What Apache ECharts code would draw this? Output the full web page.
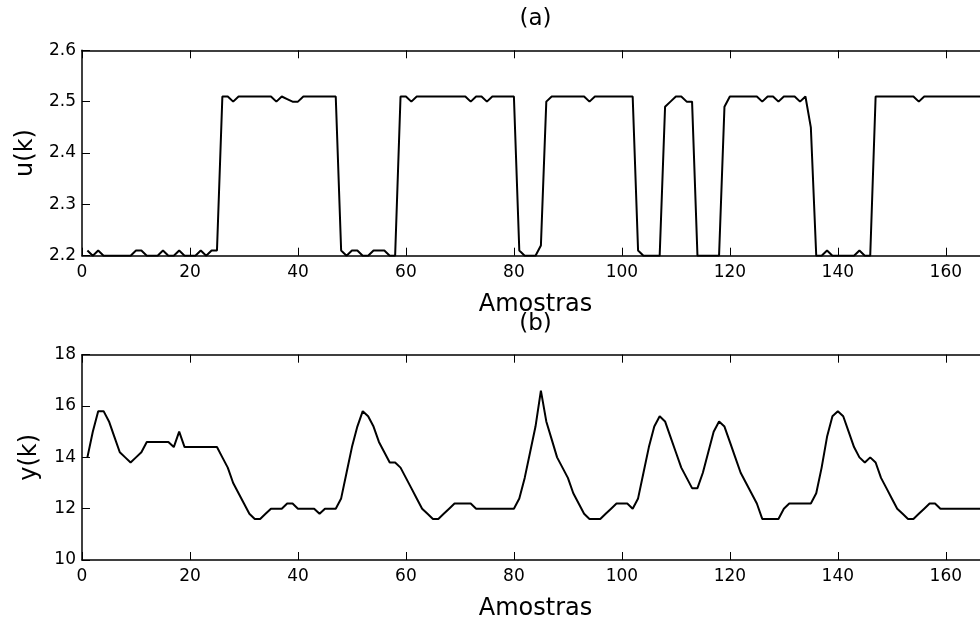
<!DOCTYPE html>
<html>
<head>
<meta charset="utf-8">
<script src="https://cdn.jsdelivr.net/npm/echarts@6/dist/echarts.min.js"></script>
<style>
  html, body { margin: 0; padding: 0; background: #fff; }
  #chart { width: 980px; height: 622px; }
</style>
</head>
<body>
<div id="chart"></div>
<script>
// Sample index k (Amostras)
const samples = [];
for (let k = 1; k <= 168; k++) samples.push(k);

// (a) control input u(k)
const uValues = [
  2.21, 2.2, 2.21, 2.2, 2.2, 2.2, 2.2, 2.2, 2.2, 2.21,
  2.21, 2.2, 2.2, 2.2, 2.21, 2.2, 2.2, 2.21, 2.2, 2.2,
  2.2, 2.21, 2.2, 2.21, 2.21, 2.51, 2.51, 2.5, 2.51, 2.51,
  2.51, 2.51, 2.51, 2.51, 2.51, 2.5, 2.51, 2.505, 2.5, 2.5,
  2.51, 2.51, 2.51, 2.51, 2.51, 2.51, 2.51, 2.21, 2.2, 2.21,
  2.21, 2.2, 2.2, 2.21, 2.21, 2.21, 2.2, 2.2, 2.51, 2.51,
  2.5, 2.51, 2.51, 2.51, 2.51, 2.51, 2.51, 2.51, 2.51, 2.51,
  2.51, 2.5, 2.51, 2.51, 2.5, 2.51, 2.51, 2.51, 2.51, 2.51,
  2.21, 2.2, 2.2, 2.2, 2.22, 2.5, 2.51, 2.51, 2.51, 2.51,
  2.51, 2.51, 2.51, 2.5, 2.51, 2.51, 2.51, 2.51, 2.51, 2.51,
  2.51, 2.51, 2.21, 2.2, 2.2, 2.2, 2.2, 2.49, 2.5, 2.51,
  2.51, 2.5, 2.5, 2.2, 2.2, 2.2, 2.2, 2.2, 2.49, 2.51,
  2.51, 2.51, 2.51, 2.51, 2.51, 2.5, 2.51, 2.51, 2.5, 2.51,
  2.51, 2.51, 2.5, 2.51, 2.45, 2.2, 2.2, 2.21, 2.2, 2.2,
  2.2, 2.2, 2.2, 2.21, 2.2, 2.2, 2.51, 2.51, 2.51, 2.51,
  2.51, 2.51, 2.51, 2.51, 2.5, 2.51, 2.51, 2.51, 2.51, 2.51,
  2.51, 2.51, 2.51, 2.51, 2.51, 2.51, 2.51, 2.51
];

// (b) process output y(k)
const yValues = [
  14.0, 15.0, 15.8, 15.8, 15.4, 14.8, 14.2, 14.0, 13.8, 14.0,
  14.2, 14.6, 14.6, 14.6, 14.6, 14.6, 14.4, 15.0, 14.4, 14.4,
  14.4, 14.4, 14.4, 14.4, 14.4, 14.0, 13.6, 13.0, 12.6, 12.2,
  11.8, 11.6, 11.6, 11.8, 12.0, 12.0, 12.0, 12.2, 12.2, 12.0,
  12.0, 12.0, 12.0, 11.8, 12.0, 12.0, 12.0, 12.4, 13.4, 14.4,
  15.2, 15.8, 15.6, 15.2, 14.6, 14.2, 13.8, 13.8, 13.6, 13.2,
  12.8, 12.4, 12.0, 11.8, 11.6, 11.6, 11.8, 12.0, 12.2, 12.2,
  12.2, 12.2, 12.0, 12.0, 12.0, 12.0, 12.0, 12.0, 12.0, 12.0,
  12.4, 13.2, 14.2, 15.2, 16.6, 15.4, 14.7, 14.0, 13.6, 13.2,
  12.6, 12.2, 11.8, 11.6, 11.6, 11.6, 11.8, 12.0, 12.2, 12.2,
  12.2, 12.0, 12.4, 13.4, 14.4, 15.2, 15.6, 15.4, 14.8, 14.2,
  13.6, 13.2, 12.8, 12.8, 13.4, 14.2, 15.0, 15.4, 15.2, 14.6,
  14.0, 13.4, 13.0, 12.6, 12.2, 11.6, 11.6, 11.6, 11.6, 12.0,
  12.2, 12.2, 12.2, 12.2, 12.2, 12.6, 13.6, 14.8, 15.6, 15.8,
  15.6, 15.0, 14.4, 14.0, 13.8, 14.0, 13.8, 13.2, 12.8, 12.4,
  12.0, 11.8, 11.6, 11.6, 11.8, 12.0, 12.2, 12.2, 12.0, 12.0,
  12.0, 12.0, 12.0, 12.0, 12.0, 12.0, 12.0, 12.0
];

const titles = ['(a)', '(b)'];
const xName = 'Amostras';
const yNames = ['u(k)', 'y(k)'];

const FONT = 'DejaVu Sans';
const BLACK = '#000';

const pairs = (vals) => samples.map((k, i) => [k, vals[i]]);

const plotLeft = 82;
const plotWidth = 907;
const plotCenter = plotLeft + plotWidth / 2;

function bottomX(gridIndex) {
  return {
    type: 'value', gridIndex, position: 'bottom',
    min: 0, max: 168, interval: 20,
    name: xName, nameLocation: 'middle', nameGap: 37,
    nameTextStyle: { fontFamily: FONT, fontSize: 24, color: BLACK },
    axisLine: { show: true, onZero: false, lineStyle: { color: BLACK, width: 1.5 } },
    axisTick: { show: true, inside: true, length: 8, lineStyle: { color: BLACK, width: 1 } },
    axisLabel: { show: true, showMaxLabel: false, margin: 8, fontFamily: FONT, fontSize: 17, color: BLACK },
    splitLine: { show: false }
  };
}

function topX(gridIndex) {
  return {
    type: 'value', gridIndex, position: 'top',
    min: 0, max: 168, interval: 20,
    axisLine: { show: true, onZero: false, lineStyle: { color: BLACK, width: 1.5 } },
    axisTick: { show: true, inside: true, length: 8, lineStyle: { color: BLACK, width: 1 } },
    axisLabel: { show: false },
    splitLine: { show: false }
  };
}

function leftY(gridIndex, min, max, interval, decimals, name) {
  return {
    type: 'value', gridIndex, position: 'left',
    min, max, interval,
    name, nameLocation: 'middle', nameGap: 40,
    nameTextStyle: { fontFamily: FONT, fontSize: 24, color: BLACK },
    axisLine: { show: true, onZero: false, lineStyle: { color: BLACK, width: 1.5 } },
    axisTick: { show: true, inside: true, length: 8, lineStyle: { color: BLACK, width: 1 } },
    axisLabel: {
      show: true, margin: 6, fontFamily: FONT, fontSize: 17, color: BLACK,
      formatter: (v) => v.toFixed(decimals)
    },
    splitLine: { show: false }
  };
}

const chart = echarts.init(document.getElementById('chart'), null, { renderer: 'canvas' });

chart.setOption({
  backgroundColor: '#fff',
  animation: false,
  title: titles.map((t, i) => ({
    text: t,
    left: plotCenter,
    top: i === 0 ? 8 : 313,
    padding: 0,
    textAlign: 'center',
    textVerticalAlign: 'top',
    textStyle: { fontFamily: FONT, fontSize: 23, fontWeight: 'normal', color: BLACK }
  })),
  grid: [
    { left: plotLeft, top: 50.3, width: plotWidth, height: 205.4, outerBoundsMode: 'none', containLabel: false },
    { left: plotLeft, top: 354.7, width: plotWidth, height: 205.3, outerBoundsMode: 'none', containLabel: false }
  ],
  xAxis: [bottomX(0), topX(0), bottomX(1), topX(1)],
  yAxis: [
    leftY(0, 2.2, 2.6, 0.1, 1, yNames[0]),
    leftY(1, 10, 18, 2, 0, yNames[1])
  ],
  series: [
    {
      type: 'line', xAxisIndex: 0, yAxisIndex: 0,
      data: pairs(uValues), symbol: 'none', clip: true,
      lineStyle: { color: BLACK, width: 2 }
    },
    {
      type: 'line', xAxisIndex: 2, yAxisIndex: 1,
      data: pairs(yValues), symbol: 'none', clip: true,
      lineStyle: { color: BLACK, width: 2 }
    }
  ]
});
</script>
</body>
</html>
